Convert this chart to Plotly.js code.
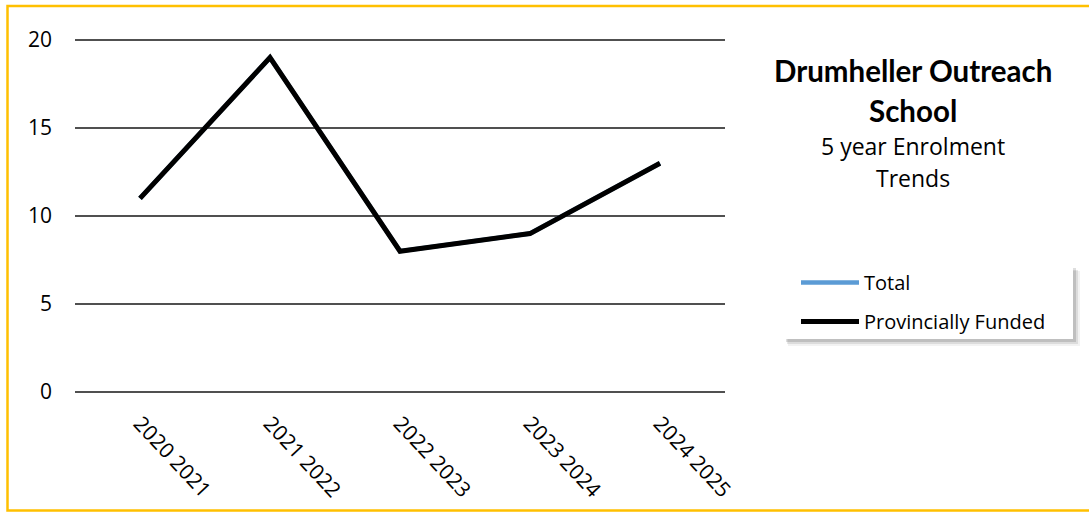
<!DOCTYPE html>
<html>
<head>
<meta charset="utf-8">
<script src="https://cdn.plot.ly/plotly-3.0.1.min.js"></script>
<style>
  html, body { margin: 0; padding: 0; background: #ffffff; }
  #chart { width: 1089px; height: 512px; }
</style>
</head>
<body>
<div id="chart"></div>
<script>
// ---- data ----
const categories = ["2020 2021", "2021 2022", "2022 2023", "2023 2024", "2024 2025"];
const totalValues = [11, 19, 8, 9, 13];
const provinciallyFunded = [11, 19, 8, 9, 13];
const yTicks = [0, 5, 10, 15, 20];
const seriesNames = ["Total", "Provincially Funded"];
const titleMain = ["Drumheller Outreach", "School"];
const titleSub = ["5 year Enrolment", "Trends"];

const FONT = "'Open Sans', Lato, sans-serif";
const TFONT = "Lato, 'Open Sans', sans-serif";

// plot area in pixels: x 75..725, y 38..394 (value 20 at y=40, 0 at y=392)
const L = 75, R = 725, T = 38, B = 394;
const pad = 2 / 17.6;
const px = x => (x - L) / (R - L);
const py = y => (B - y) / (B - T);

const traces = [
  {
    x: categories, y: totalValues, name: seriesNames[0], legendgroup: "a",
    type: "scatter", mode: "lines",
    line: { color: "#5B9BD5", width: 4.5, shape: "linear" }
  },
  {
    x: categories, y: provinciallyFunded, name: seriesNames[1], legendgroup: "b",
    type: "scatter", mode: "lines",
    line: { color: "#000000", width: 5, shape: "linear" }
  }
];

const annotations = [
  { text: "<b>" + titleMain[0] + "</b>", x: px(913), y: py(71), font: { family: TFONT, size: 29.5, color: "#000" } },
  { text: "<b>" + titleMain[1] + "</b>", x: px(913), y: py(110), font: { family: TFONT, size: 29.5, color: "#000" } },
  { text: titleSub[0], x: px(913), y: py(146), font: { size: 23, color: "#000" } },
  { text: titleSub[1], x: px(913), y: py(178), font: { size: 23, color: "#000" } }
].map(a => Object.assign({ xref: "paper", yref: "paper", showarrow: false, xanchor: "center", yanchor: "middle" }, a));

const shapes = [
  // legend shadow (soft)
  { type: "rect", xref: "paper", yref: "paper", x0: px(788), x1: px(1080), y0: py(346), y1: py(271),
    fillcolor: "rgba(0,0,0,0.05)", line: { width: 0 }, layer: "above" },
  { type: "rect", xref: "paper", yref: "paper", x0: px(787), x1: px(1078), y0: py(344), y1: py(270),
    fillcolor: "rgba(0,0,0,0.09)", line: { width: 0 }, layer: "above" },
  { type: "rect", xref: "paper", yref: "paper", x0: px(786), x1: px(1076), y0: py(342), y1: py(268),
    fillcolor: "rgba(0,0,0,0.13)", line: { width: 0 }, layer: "above" },
  // legend box
  { type: "rect", xref: "paper", yref: "paper", x0: px(783), x1: px(1073), y0: py(339), y1: py(265),
    fillcolor: "#ffffff", line: { width: 0 }, layer: "above" },
  // outer yellow border
  { type: "rect", xref: "paper", yref: "paper", x0: px(7.5), x1: px(1100), y0: py(510.5), y1: py(6),
    fillcolor: "rgba(0,0,0,0)", line: { color: "#FFC000", width: 2.5 }, layer: "above" }
];

const layout = {
  width: 1089, height: 512,
  margin: { l: L, r: 1089 - R, t: T, b: 512 - B, pad: 0 },
  paper_bgcolor: "#ffffff", plot_bgcolor: "#ffffff",
  font: { family: FONT, color: "#000000", size: 20 },
  showlegend: true,
  legend: {
    x: px(796), y: py(263), xanchor: "left", yanchor: "top",
    bgcolor: "rgba(0,0,0,0)", borderwidth: 0,
    font: { family: FONT, size: 20, color: "#000" },
    itemwidth: 58, tracegroupgap: 10,
    traceorder: "grouped"
  },
  xaxis: {
    type: "category", range: [-0.5, 4.5],
    showgrid: false, zeroline: false, showline: false,
    ticks: "", tickangle: 47, ticklabelstandoff: 12,
    tickfont: { family: FONT, size: 21, color: "#000" },
    fixedrange: true
  },
  yaxis: {
    range: [-pad, 20 + pad], tickvals: yTicks, ticktext: yTicks.map(String),
    showgrid: true, gridcolor: "#505050", gridwidth: 1.3,
    zeroline: false, showline: false, ticks: "",
    ticklabelstandoff: 22,
    tickfont: { family: FONT, size: 21, color: "#000" },
    fixedrange: true
  },
  annotations: annotations,
  shapes: shapes
};

Plotly.newPlot("chart", traces, layout, { displayModeBar: false, staticPlot: true });
</script>
</body>
</html>
